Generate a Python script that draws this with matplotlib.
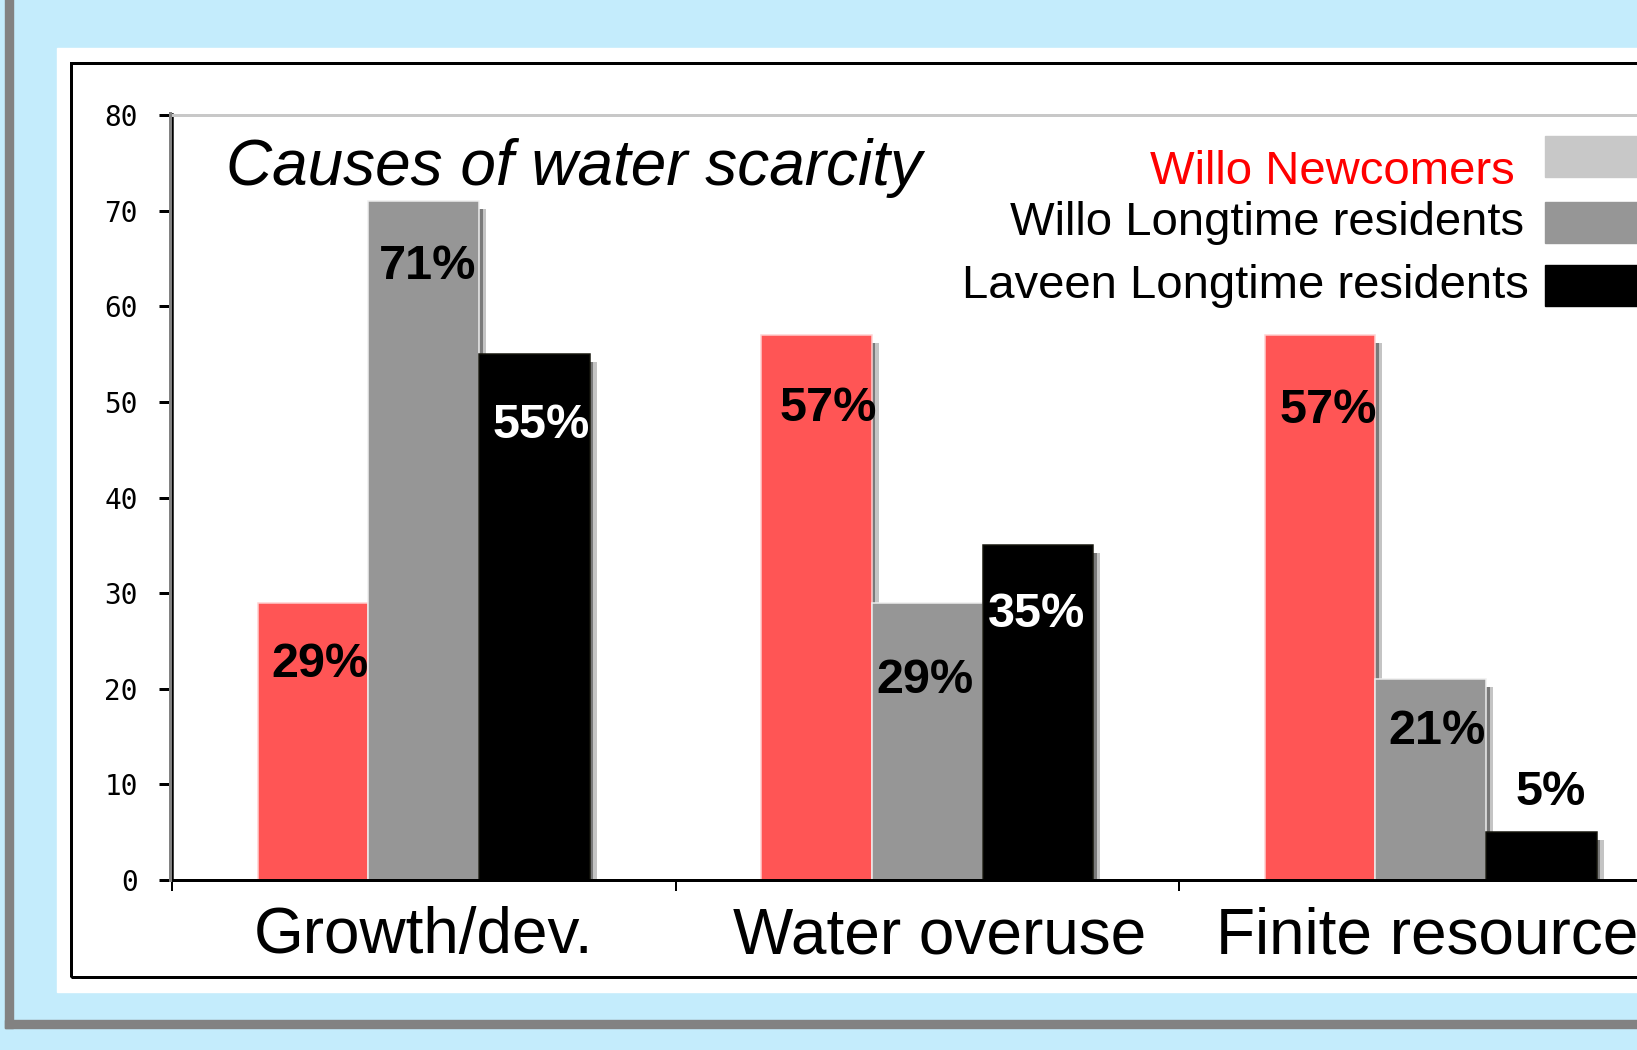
import matplotlib
matplotlib.use("Agg")
import matplotlib.pyplot as plt
from matplotlib.patches import Rectangle
from matplotlib.transforms import ScaledTranslation, blended_transform_factory
import numpy as np

# data
categories = ["Growth/dev.", "Water overuse", "Finite resource"]
willo_new = [29, 57, 57]
willo_long = [71, 29, 21]
laveen_long = [55, 35, 5]
series_names = ["Willo Newcomers", "Willo Longtime residents", "Laveen Longtime residents"]
y_ticks = [0, 10, 20, 30, 40, 50, 60, 70, 80]

# layout / style
W, H = 1637, 1050
DPI = 100
PX = 72.0 / DPI          # one pixel in points
bar_colors = ["#ff5555", "#969696", "#000000"]
edge_colors = ["#ffd0d0", "#eeeeee", "#15150c"]
legend_swatch = ["#c8c8c8", "#969696", "#000000"]
legend_text_color = ["#ff0000", "#000000", "#000000"]
# label placement relative to the bar top (px); negative drop = above the bar
label_drop = [[62, 74, 76], [65, 78, 52], [71, 69, -40]]
label_shift = [[7, 12, 8], [4, -2, 6], [7, -1, 9]]
label_color = [["black"] * 3, ["black"] * 3, ["white", "white", "black"]]
cat_shift = [0, 12, -4]

plt.rcParams['font.family'] = ['Liberation Sans', 'DejaVu Sans']


def fx(px):
    return px / W


def fy(py):
    return 1 - py / H


fig = plt.figure(figsize=(W / DPI, H / DPI), dpi=DPI, facecolor="#c4ecfc")

# page decoration: gray edge, white panel, black frame
fig.patches.append(Rectangle((fx(5), fy(1028)), fx(8), 1.2, transform=fig.transFigure,
                             color="#828282", zorder=-20))
fig.patches.append(Rectangle((fx(5), fy(1028)), 1.2, 8 / H, transform=fig.transFigure,
                             color="#828282", zorder=-20))
fig.patches.append(Rectangle((fx(57), fy(992)), 1.2, (992 - 48) / H, transform=fig.transFigure,
                             color="white", zorder=-19))
fig.patches.append(Rectangle((fx(70.5), fy(976.5)), 1.2, (976.5 - 62.5) / H, transform=fig.transFigure,
                             facecolor="none", edgecolor="black", linewidth=3 * PX, zorder=-18))

# plot area (extends past the right edge, the picture is cropped there)
ax_left, ax_right, ax_top, ax_bottom = 172, 1682.5, 115, 880
ax = fig.add_axes([fx(ax_left), fy(ax_bottom), (ax_right - ax_left) / W, (ax_bottom - ax_top) / H])
ax.set_facecolor("white")
ax.set_xlim(-0.5, 2.5)
ax.set_ylim(0, 80)

x = np.arange(len(categories))
width = 0.22
offsets = [-width, 0, width]
series = [willo_new, willo_long, laveen_long]

# drop shadows behind the bars
drop = 8 * 80.0 / (ax_bottom - ax_top)
light = ax.transData + ScaledTranslation(7 / DPI, 0, fig.dpi_scale_trans)
dark = ax.transData + ScaledTranslation(3.5 / DPI, 0, fig.dpi_scale_trans)
for i, vals in enumerate(series):
    h = [max(v - drop, 0) for v in vals]
    ax.bar(x + offsets[i], h, width, color="#c4c4c4", transform=light, zorder=1)
    ax.bar(x + offsets[i], h, width, color="#7a7a7a", transform=dark, zorder=1.1)

for i, vals in enumerate(series):
    ax.bar(x + offsets[i], vals, width, color=bar_colors[i], edgecolor=edge_colors[i],
           linewidth=1.5 * PX, zorder=2)
    for j, v in enumerate(vals):
        ax.annotate(f"{v}%", (x[j] + offsets[i], v),
                    xytext=(label_shift[i][j] * PX, -label_drop[i][j] * PX),
                    textcoords="offset points", ha="center", va="center",
                    fontsize=35, fontweight="bold", color=label_color[i][j], zorder=5)

# axes styling
ax.spines["right"].set_visible(False)
ax.spines["top"].set_color("#c8c8c8")
ax.spines["top"].set_linewidth(3 * PX)
ax.spines["left"].set_linewidth(3.5 * PX)
ax.spines["bottom"].set_linewidth(3 * PX)
for s in ax.spines.values():
    s.set_zorder(4)

ax.set_yticks(y_ticks)
ax.set_yticklabels([str(t) for t in y_ticks], fontfamily="DejaVu Sans Mono", fontsize=20)
ax.tick_params(axis="y", direction="out", length=13 * PX, width=3 * PX, pad=21 * PX)

ax.set_xticks([-0.5, 0.5, 1.5, 2.5])
ax.set_xticklabels([])
ax.tick_params(axis="x", which="major", direction="out", length=11 * PX, width=2 * PX)

# category names under the groups
cat_trans = blended_transform_factory(ax.transData, ax.transAxes)
for j, name in enumerate(categories):
    ax.annotate(name, (x[j], 0), xycoords=cat_trans, xytext=(cat_shift[j] * PX, -26 * PX),
                textcoords="offset points", ha="center", va="top", fontsize=46,
                annotation_clip=False)

# gray shadow to the left of the y axis
fig.add_artist(plt.Line2D([fx(169.5), fx(169.5)], [fy(113), fy(880)], transform=fig.transFigure,
                          color="#828282", linewidth=3 * PX, zorder=3))

# title
fig.text(fx(226), fy(185), "Causes of water scarcity", fontsize=46, fontstyle="italic",
         ha="left", va="baseline", zorder=6)

# legend (drawn by hand, as in the original)
text_right = [1515, 1524, 1529]
text_base = [184, 235, 298]
sw_top = [136, 202, 265]
for k, name in enumerate(series_names):
    fig.text(fx(text_right[k]), fy(text_base[k]), name, fontsize=34, color=legend_text_color[k],
             ha="right", va="baseline", zorder=6)
    fig.patches.append(Rectangle((fx(1545), fy(sw_top[k] + 41)), 0.2, 41 / H, transform=fig.transFigure,
                                 color=legend_swatch[k], zorder=6))

fig.savefig("out.png", dpi=DPI, facecolor=fig.get_facecolor())
